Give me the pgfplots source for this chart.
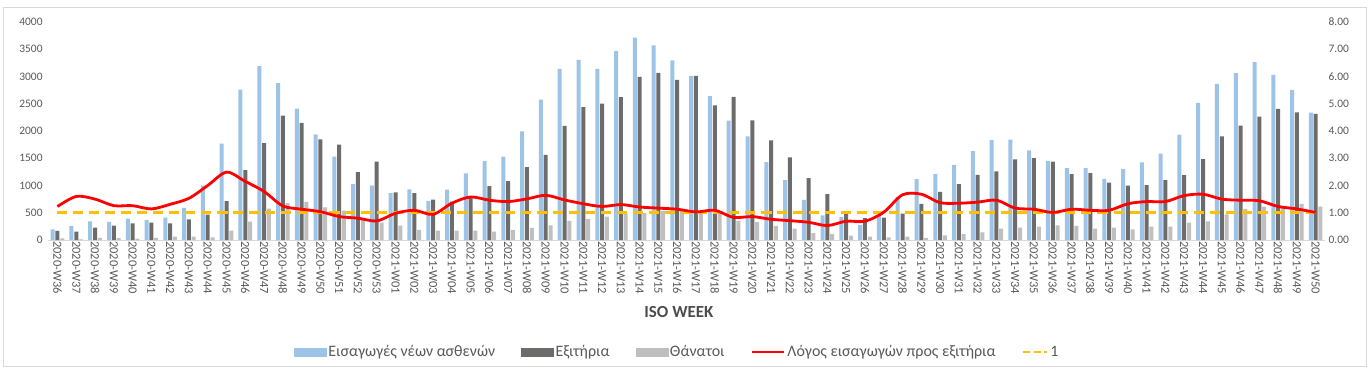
\documentclass[border=0pt]{standalone}
\usepackage{fontspec}
\setmainfont{Carlito}
\usepackage{pgfplots}
\usepackage{pgfplotstable}
\pgfplotsset{compat=1.18}
\definecolor{cblue}{HTML}{9DC3E6}
\definecolor{cdark}{HTML}{6E6B6B}
\definecolor{clight}{HTML}{BFBFBF}
\definecolor{cred}{HTML}{FF0000}
\definecolor{cyel}{HTML}{FFC000}
\definecolor{ctext}{HTML}{595959}
\definecolor{cframe}{HTML}{D9D9D9}

\pgfplotstableread{
i adm dis dth ratio one
0 196 166 30 1.23 1
1 258 153 12 1.60 1
2 344 227 37 1.50 1
3 331 264 37 1.26 1
4 393 307 25 1.26 1
5 368 319 37 1.14 1
6 411 307 61 1.31 1
7 589 380 61 1.53 1
8 1000 466 49 2.00 1
9 1767 712 172 2.49 1
10 2761 1282 337 2.15 1
11 3190 1779 577 1.78 1
12 2877 2282 675 1.25 1
13 2411 2147 700 1.13 1
14 1939 1847 600 1.04 1
15 1528 1748 540 0.86 1
16 1024 1245 380 0.80 1
17 1000 1436 319 0.70 1
18 862 874 265 0.98 1
19 930 858 188 1.09 1
20 718 742 172 0.94 1
21 926 705 172 1.35 1
22 1221 785 172 1.58 1
23 1448 988 153 1.46 1
24 1528 1080 184 1.41 1
25 1994 1337 221 1.51 1
26 2577 1564 270 1.64 1
27 3141 2092 352 1.47 1
28 3307 2436 388 1.33 1
29 3141 2503 429 1.23 1
30 3466 2620 475 1.30 1
31 3712 2994 495 1.21 1
32 3571 3068 530 1.17 1
33 3295 2939 545 1.13 1
34 3012 3012 500 1.03 1
35 2638 2472 478 1.09 1
36 2190 2626 350 0.83 1
37 1902 2196 330 0.86 1
38 1429 1828 258 0.76 1
39 1098 1515 209 0.71 1
40 736 1135 125 0.65 1
41 450 840 112 0.53 1
42 420 505 82 0.69 1
43 276 400 61 0.69 1
44 450 410 49 1.02 1
45 790 485 61 1.66 1
46 1117 663 37 1.68 1
47 1215 883 86 1.37 1
48 1380 1025 110 1.35 1
49 1632 1196 141 1.39 1
50 1834 1258 209 1.46 1
51 1840 1478 227 1.17 1
52 1644 1503 245 1.13 1
53 1454 1436 270 1.01 1
54 1319 1209 258 1.13 1
55 1319 1227 209 1.09 1
56 1123 1055 227 1.09 1
57 1300 1000 196 1.33 1
58 1423 1006 245 1.41 1
59 1583 1098 245 1.41 1
60 1932 1190 319 1.63 1
61 2515 1485 344 1.68 1
62 2865 1902 470 1.50 1
63 3061 2098 570 1.46 1
64 3264 2264 613 1.44 1
65 3031 2405 583 1.23 1
66 2755 2344 663 1.14 1
67 2337 2313 613 1.01 1
}\datatable

\begin{document}
\begin{tikzpicture}
\pgfplotsset{
  common/.style={
    at={(0,0)}, anchor=south west,
    scale only axis, width=1277bp, height=218bp,
    xmin=-0.5, xmax=67.5,
    major tick length=0pt,
    tick label style={text=ctext, font=\fontsize{11.5}{13}\selectfont},
    /pgf/number format/assume math mode=true,
  }
}
\begin{axis}[common,
  ymin=0, ymax=4000,
  ytick={0,500,...,4000},
  scaled y ticks=false,
  /pgf/number format/set thousands separator={},
  y tick label style={xshift=-2bp},
  axis line style={draw=none},
  xtick={0,...,67},
  xticklabels={2020-W36,2020-W37,2020-W38,2020-W39,2020-W40,2020-W41,2020-W42,2020-W43,2020-W44,2020-W45,2020-W46,2020-W47,2020-W48,2020-W49,2020-W50,2020-W51,2020-W52,2020-W53,2021-W01,2021-W02,2021-W03,2021-W04,2021-W05,2021-W06,2021-W07,2021-W08,2021-W09,2021-W10,2021-W11,2021-W12,2021-W13,2021-W14,2021-W15,2021-W16,2021-W17,2021-W18,2021-W19,2021-W20,2021-W21,2021-W22,2021-W23,2021-W24,2021-W25,2021-W26,2021-W27,2021-W28,2021-W29,2021-W30,2021-W31,2021-W32,2021-W33,2021-W34,2021-W35,2021-W36,2021-W37,2021-W38,2021-W39,2021-W40,2021-W41,2021-W42,2021-W43,2021-W44,2021-W45,2021-W46,2021-W47,2021-W48,2021-W49,2021-W50},
  x tick label style={rotate=-90, anchor=west, inner sep=1bp, font=\fontsize{12.5}{14}\selectfont},
  xlabel={\textbf{ISO WEEK}},
  xlabel style={at={(axis description cs:0.494,-0.33)}, anchor=center, font=\fontsize{17}{19}\selectfont, text=ctext!85!black},
  clip=false,
]
\draw[cframe, line width=0.8bp] (axis cs:-0.5,0) -- (axis cs:67.5,0);
\addplot[ybar, bar width=4bp, bar shift=-4.8bp, fill=cblue, draw=none] table[x=i, y=adm] {\datatable};
\addplot[ybar, bar width=4bp, bar shift=0bp, fill=cdark, draw=none] table[x=i, y=dis] {\datatable};
\addplot[ybar, bar width=4bp, bar shift=4.8bp, fill=clight, draw=none] table[x=i, y=dth] {\datatable};
\end{axis}
\begin{axis}[common,
  ymin=0, ymax=8,
  ytick={0,1,...,8},
  axis y line*=right,
  axis x line=none,
  y axis line style={draw=none},
  /pgf/number format/fixed,
  /pgf/number format/fixed zerofill,
  /pgf/number format/precision=2,
  legend columns=5,
  legend style={draw=none, fill=none, at={(axis description cs:0.4927,-0.514)}, anchor=center,
    font=\fontsize{16}{18}\selectfont, text=ctext,
    /tikz/every even column/.append style={column sep=24bp}},
  legend cell align=left,
]
\addlegendimage{legend image code/.code={\fill[cblue] (0bp,-4bp) rectangle (32bp,4bp);}}
\addlegendentry{Εισαγωγές νέων ασθενών}
\addlegendimage{legend image code/.code={\fill[cdark] (0bp,-4bp) rectangle (32bp,4bp);}}
\addlegendentry{Εξιτήρια}
\addlegendimage{legend image code/.code={\fill[clight] (0bp,-4bp) rectangle (32bp,4bp);}}
\addlegendentry{Θάνατοι}
\addlegendimage{legend image code/.code={\draw[cred, line width=2.8bp] (0bp,0bp) -- (32bp,0bp);}}
\addlegendentry{Λόγος εισαγωγών προς εξιτήρια}
\addlegendimage{legend image code/.code={\draw[cyel, line width=2.8bp, dash pattern=on 7bp off 3.5bp] (0bp,0bp) -- (24bp,0bp);}}
\addlegendentry{1}
\addplot[cyel, line width=2.8bp, dash pattern=on 10bp off 6bp, forget plot] table[x=i, y=one] {\datatable};
\addplot[cred, line width=2.8bp, smooth, tension=0.5, forget plot] table[x=i, y=ratio] {\datatable};
\end{axis}
\draw[cframe, line width=0.8bp] (-45bp,-126bp) rectangle (1318bp,233bp);
\pgfresetboundingbox
\path[use as bounding box] (-48.1bp,-129bp) rectangle (1320.9bp,240bp);
\end{tikzpicture}
\end{document}
